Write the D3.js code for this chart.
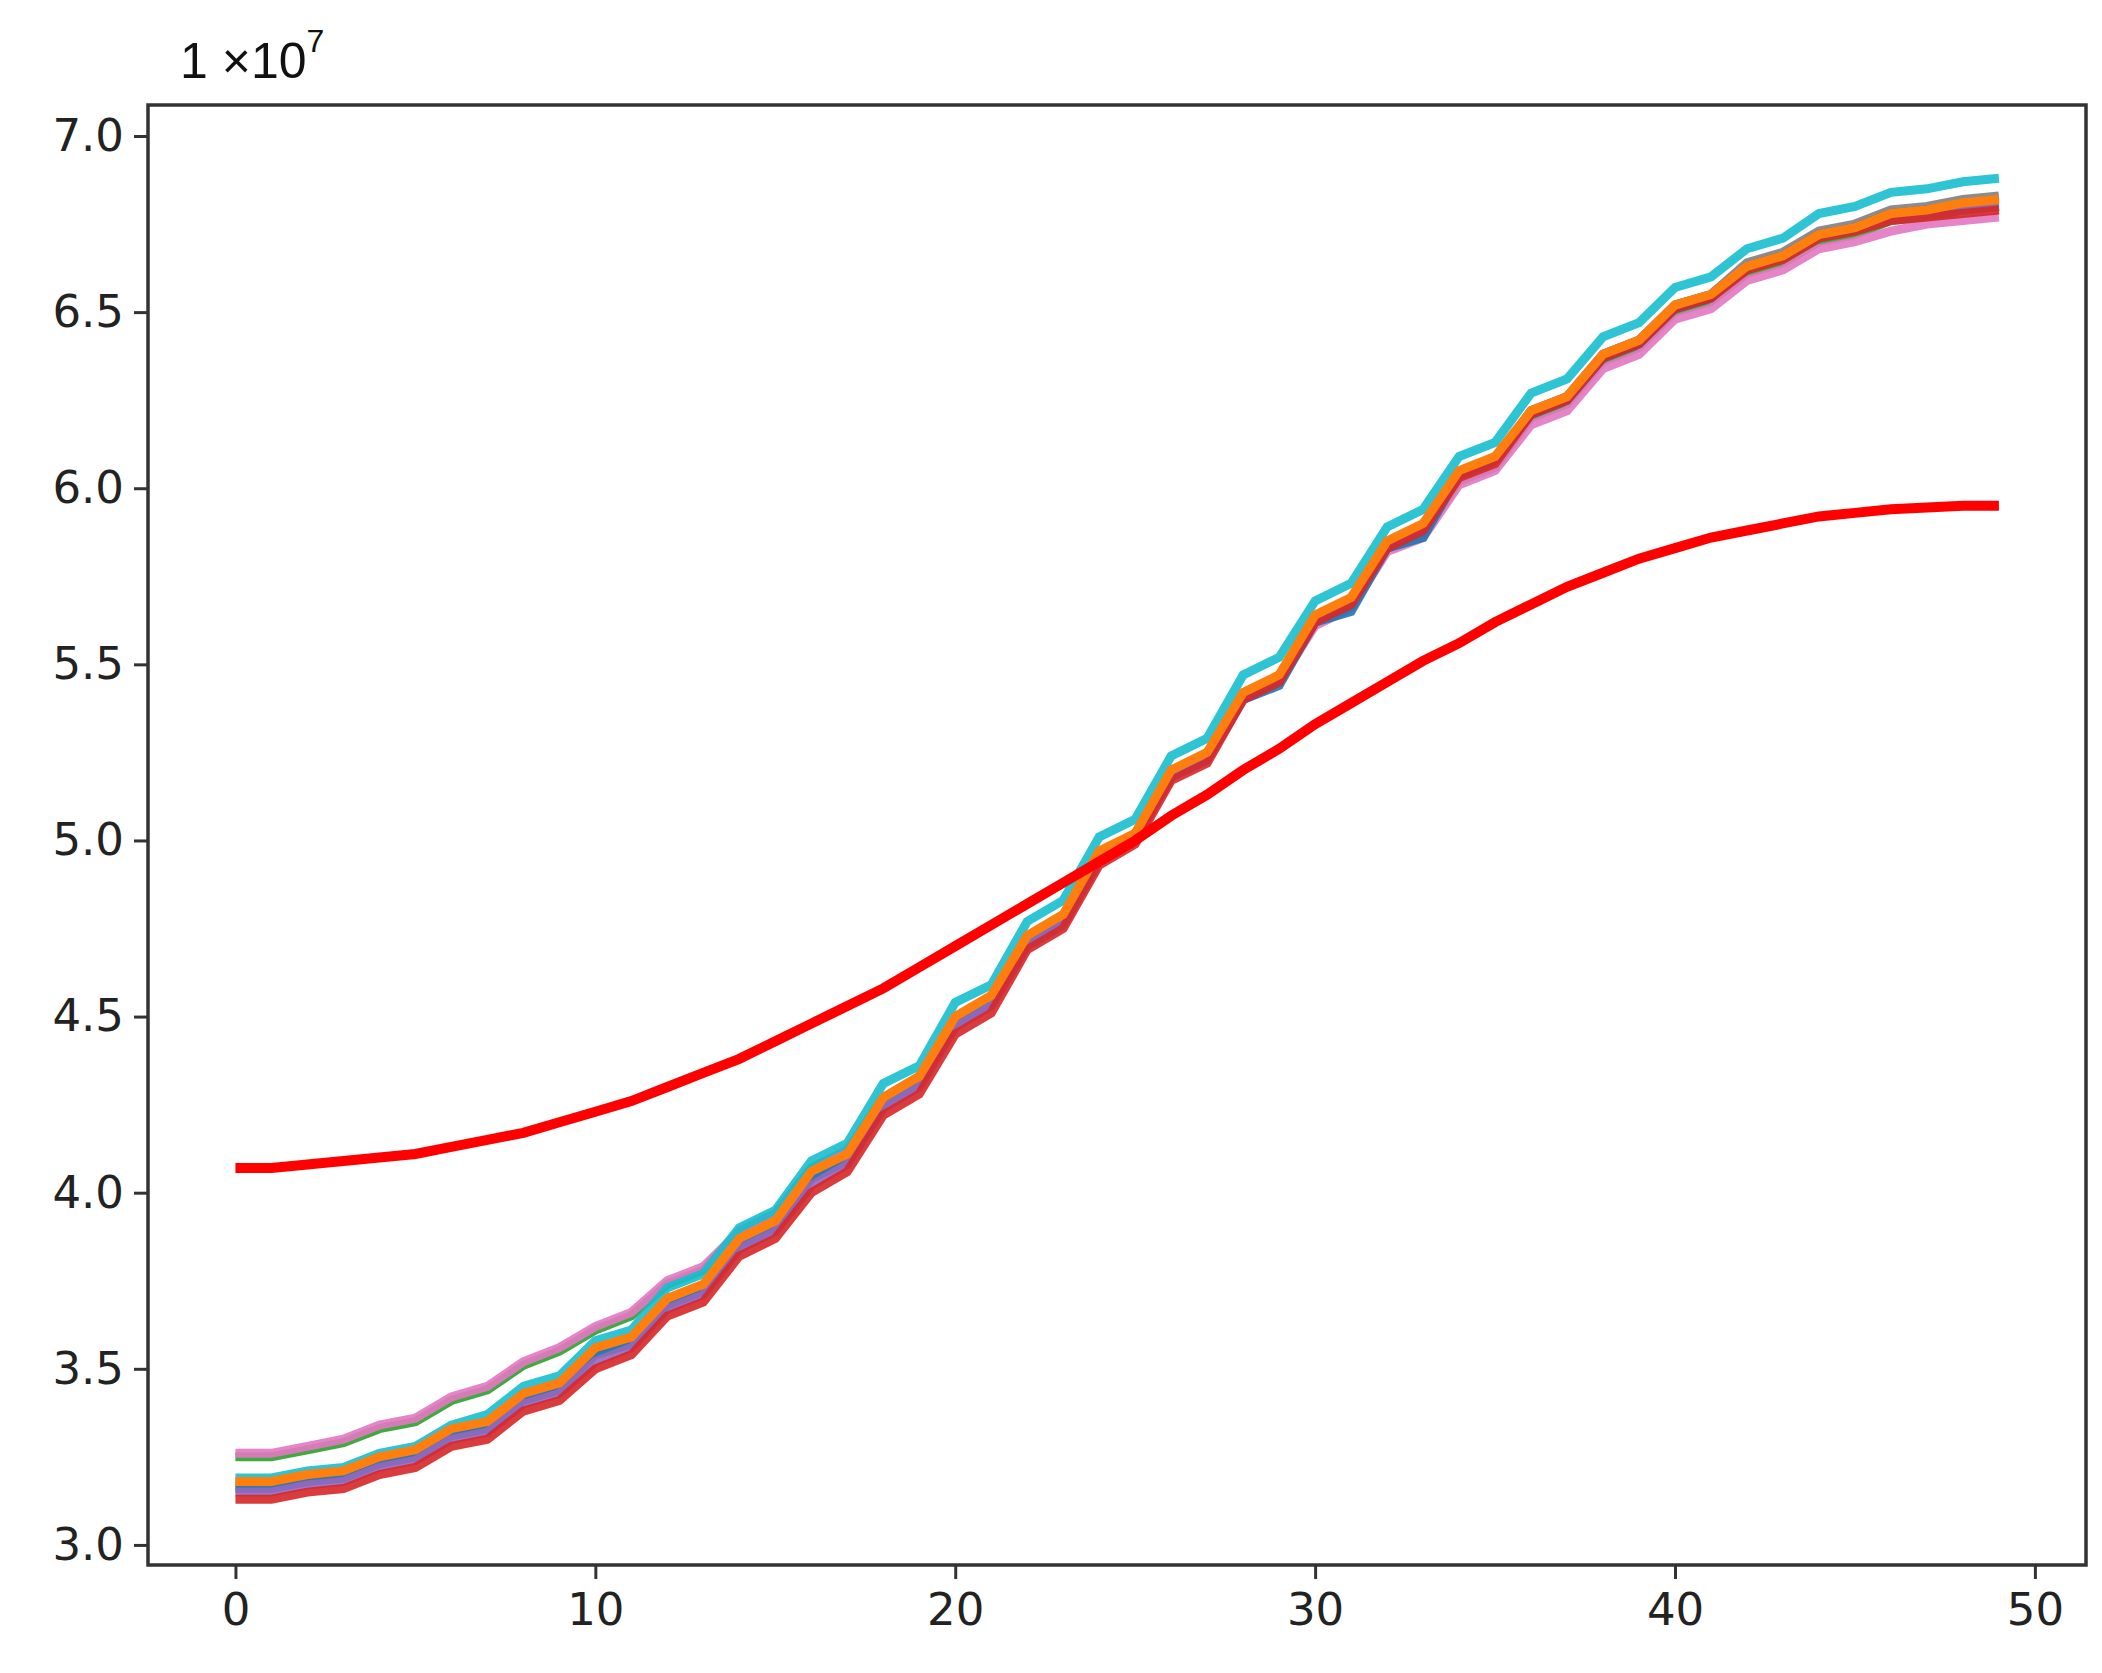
<!DOCTYPE html><html><head><meta charset="utf-8"><script src="https://cdn.jsdelivr.net/npm/d3@7"></script>
<style>body{margin:0;background:#fff}svg{display:block}</style></head><body><svg id="c" width="2102" height="1673"></svg>
<script>
const xTicks=[0,10,20,30,40,50];
const yTicks=[3.0,3.5,4.0,4.5,5.0,5.5,6.0,6.5,7.0];
const mainRed=[4.07,4.07,4.08,4.09,4.10,4.11,4.13,4.15,4.17,4.20,4.23,4.26,4.30,4.34,4.38,4.43,4.48,4.53,4.58,4.64,4.70,4.76,4.82,4.88,4.94,5.00,5.07,5.13,5.20,5.26,5.33,5.39,5.45,5.51,5.56,5.62,5.67,5.72,5.76,5.80,5.83,5.86,5.88,5.90,5.92,5.93,5.94,5.945,5.95,5.95];
const sBlue=[3.16,3.16,3.18,3.19,3.23,3.25,3.31,3.33,3.41,3.44,3.54,3.57,3.68,3.72,3.85,3.90,4.04,4.09,4.25,4.31,4.48,4.54,4.71,4.77,4.95,5.00,5.18,5.23,5.40,5.44,5.62,5.65,5.83,5.86,6.04,6.08,6.21,6.25,6.37,6.41,6.51,6.54,6.63,6.66,6.72,6.74,6.78,6.79,6.80,6.81];
const sGreen=[3.25,3.25,3.27,3.29,3.33,3.35,3.41,3.44,3.51,3.55,3.61,3.65,3.74,3.78,3.89,3.94,4.07,4.12,4.27,4.33,4.49,4.55,4.72,4.78,4.96,5.02,5.19,5.24,5.41,5.46,5.62,5.67,5.83,5.87,6.02,6.06,6.20,6.24,6.36,6.40,6.50,6.53,6.61,6.64,6.70,6.72,6.76,6.77,6.79,6.80];
const sRed=[3.13,3.13,3.15,3.16,3.20,3.22,3.28,3.30,3.38,3.41,3.50,3.54,3.65,3.69,3.82,3.87,4.00,4.06,4.22,4.28,4.45,4.51,4.69,4.75,4.93,4.99,5.17,5.22,5.40,5.45,5.62,5.67,5.83,5.88,6.03,6.07,6.21,6.25,6.37,6.41,6.51,6.54,6.62,6.65,6.71,6.73,6.76,6.77,6.78,6.79];
const sPurple=[3.15,3.15,3.17,3.18,3.22,3.24,3.30,3.32,3.40,3.43,3.52,3.56,3.67,3.71,3.84,3.89,4.02,4.08,4.24,4.30,4.47,4.53,4.70,4.76,4.94,5.00,5.18,5.23,5.41,5.46,5.63,5.68,5.84,5.89,6.04,6.08,6.22,6.26,6.38,6.42,6.52,6.55,6.63,6.66,6.72,6.74,6.77,6.78,6.79,6.80];
const sGray=[3.17,3.17,3.19,3.20,3.24,3.26,3.32,3.34,3.42,3.45,3.55,3.58,3.69,3.73,3.86,3.91,4.05,4.10,4.26,4.32,4.49,4.55,4.72,4.78,4.96,5.01,5.19,5.24,5.41,5.46,5.63,5.68,5.84,5.89,6.04,6.08,6.22,6.26,6.38,6.42,6.52,6.55,6.64,6.67,6.73,6.75,6.79,6.80,6.82,6.83];
const sPink=[3.26,3.26,3.28,3.30,3.34,3.36,3.42,3.45,3.52,3.56,3.62,3.66,3.75,3.79,3.89,3.94,4.06,4.12,4.26,4.32,4.48,4.54,4.71,4.77,4.95,5.01,5.18,5.23,5.40,5.45,5.61,5.66,5.82,5.86,6.01,6.05,6.18,6.22,6.34,6.38,6.48,6.51,6.59,6.62,6.68,6.70,6.73,6.75,6.76,6.77];
const sCyan=[3.19,3.19,3.21,3.22,3.26,3.28,3.34,3.37,3.45,3.48,3.58,3.61,3.73,3.77,3.90,3.95,4.09,4.14,4.31,4.36,4.54,4.59,4.77,4.83,5.01,5.06,5.24,5.29,5.47,5.52,5.68,5.73,5.89,5.94,6.09,6.13,6.27,6.31,6.43,6.47,6.57,6.60,6.68,6.71,6.78,6.80,6.84,6.85,6.87,6.88];
const sOrange=[3.18,3.18,3.20,3.21,3.25,3.27,3.33,3.35,3.43,3.46,3.56,3.59,3.70,3.74,3.87,3.92,4.06,4.11,4.27,4.33,4.50,4.56,4.73,4.79,4.97,5.02,5.20,5.25,5.42,5.47,5.64,5.69,5.85,5.90,6.05,6.09,6.22,6.26,6.38,6.42,6.52,6.55,6.63,6.66,6.72,6.74,6.78,6.79,6.81,6.82];
const series=[
 {v:sGreen,c:"#2ca02c"},{v:sPink,c:"#e377c2"},{v:sGray,c:"#7f7f7f"},{v:sBlue,c:"#1f77b4"},
 {v:sPurple,c:"#9467bd"},{v:sRed,c:"#d62728"},{v:sCyan,c:"#17becf"},{v:sOrange,c:"#ff7f0e"},
 {v:mainRed,c:"#ff0000"}];
const svg=d3.select("#c");
const L=148,R=2086,T=105,B=1565;
const x=d3.scaleLinear().domain([-2.43,51.42]).range([L,R]);
const y=d3.scaleLinear().domain([2.943,7.088]).range([B,T]);
svg.append("rect").attr("x",L).attr("y",T).attr("width",R-L).attr("height",B-T).attr("fill","none").attr("stroke","#333").attr("stroke-width",3.5);
const line=d3.line().x((d,i)=>x(i)).y(d=>y(d));
series.forEach(s=>svg.append("path").datum(s.v).attr("d",line).attr("fill","none").attr("stroke",s.c).attr("stroke-width",s.c=="#ff0000"?10:9).attr("stroke-linejoin","miter").attr("opacity",s.c=="#ff0000"||s.c=="#ff7f0e"?1:0.9));
const xa=svg.append("g").attr("transform",`translate(0,${B})`).call(d3.axisBottom(x).tickValues(xTicks).tickFormat(d3.format("d")).tickSize(14).tickPadding(14));
const ya=svg.append("g").attr("transform",`translate(${L},0)`).call(d3.axisLeft(y).tickValues(yTicks).tickFormat(d3.format(".1f")).tickSize(14).tickPadding(10));
[xa,ya].forEach(a=>{a.select(".domain").remove();a.selectAll("line").attr("stroke","#333").attr("stroke-width",3);a.selectAll("text").attr("font-family","DejaVu Sans").attr("font-size",45).attr("fill","#222");});
const t=svg.append("text").attr("x",180).attr("y",78).attr("font-family","Liberation Sans").attr("font-size",50).attr("fill","#111");
t.append("tspan").text("1 ×10");
t.append("tspan").attr("dy",-26).attr("font-size",32).text("7");
</script></body></html>
